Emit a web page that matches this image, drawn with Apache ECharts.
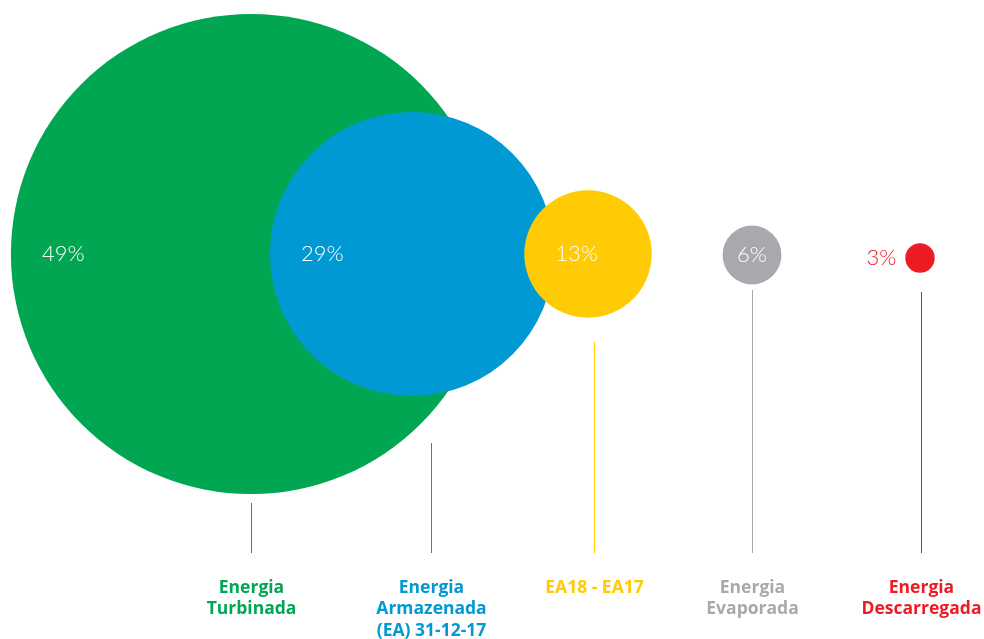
<!DOCTYPE html>
<html>
<head>
<meta charset="utf-8">
<script src="https://cdn.jsdelivr.net/npm/echarts@6/dist/echarts.min.js"></script>
<style>html,body{margin:0;padding:0;background:#fff;}#c{width:984px;height:639px;}</style>
</head>
<body>
<div id="c"></div>
<script>
// ---- data ----
const categories = ['Energia\nTurbinada', 'Energia\nArmazenada\n(EA) 31-12-17', 'EA18 - EA17', 'Energia\nEvaporada', 'Energia\nDescarregada'];
const values = [49, 29, 13, 6, 3];
const valueLabels = ['49%', '29%', '13%', '6%', '3%'];
const colors = ['#00A651', '#0099D3', '#FFCB05', '#A7A9AC', '#ED1C24'];

// ---- layout (diagram positions) ----
const bubbleX = [251, 412, 588, 752, 920];
const bubbleY = [254, 254, 254, 255, 258];
const stemX = [251, 431, 594, 752, 921];
const stemTop = [503, 443, 342, 290, 292];
const stemBottom = 553;
const radiusPerUnit = 4.9;

const chart = echarts.init(document.getElementById('c'));

const bubbleData = values.map((v, i) => {
  let label;
  if (i < 3) {
    label = { show: true, position: [31, '50%'], align: 'left', verticalAlign: 'middle', color: '#fff' };
  } else if (i === 3) {
    label = { show: true, position: 'inside', color: '#fff' };
  } else {
    label = { show: true, position: 'left', distance: 9, color: colors[i] };
  }
  return {
    value: [bubbleX[i], bubbleY[i], v],
    itemStyle: { color: colors[i], opacity: 1 },
    label: label
  };
});

const stemData = values.map((v, i) => [stemX[i], stemTop[i], stemBottom]);

chart.setOption({
  animation: false,
  grid: { left: 0, right: 0, top: 0, bottom: 0 },
  xAxis: { type: 'value', min: 0, max: 984, show: false },
  yAxis: { type: 'value', min: 0, max: 639, inverse: true, show: false },
  series: [
    {
      type: 'scatter',
      data: bubbleData,
      symbol: 'circle',
      symbolSize: (val) => val[2] * radiusPerUnit * 2,
      label: {
        formatter: (p) => valueLabels[p.dataIndex],
        fontFamily: 'Lato',
        fontWeight: 300,
        fontSize: 22
      },
      emphasis: { disabled: true }
    },
    {
      type: 'custom',
      data: stemData,
      renderItem: (params, api) => {
        const i = params.dataIndex;
        const top = api.coord([api.value(0), api.value(1)]);
        const bot = api.coord([api.value(0), api.value(2)]);
        const x = Math.round(top[0]) + 0.5;
        return {
          type: 'group',
          children: [
            { type: 'line', shape: { x1: x, y1: top[1], x2: x, y2: bot[1] }, style: { stroke: colors[i], lineWidth: 1 } },
            { type: 'text', style: { text: categories[i], x: x, y: bot[1] + 24, align: 'center', verticalAlign: 'top', fill: colors[i], fontFamily: 'Open Sans', fontWeight: 'bold', fontSize: 17.5, lineHeight: 21.5 } }
          ]
        };
      }
    }
  ]
});
</script>
</body>
</html>
